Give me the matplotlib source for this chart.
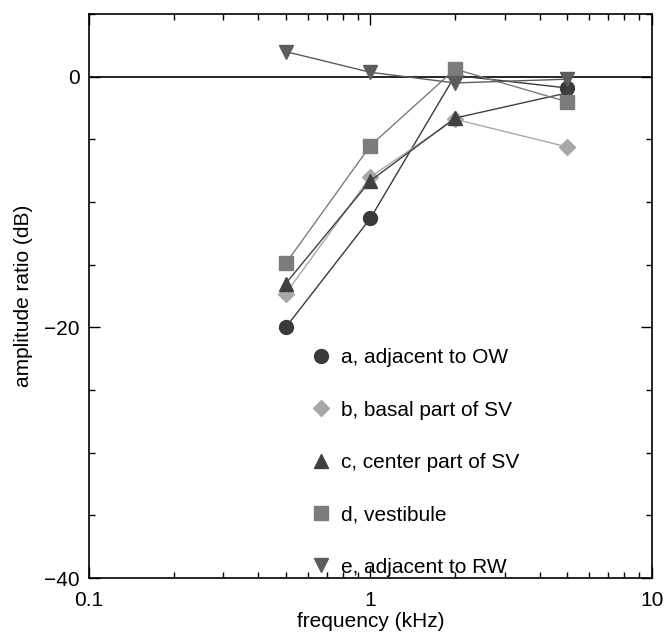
import matplotlib
matplotlib.use('Agg')
import matplotlib.pyplot as plt
from matplotlib.lines import Line2D
from matplotlib.ticker import MultipleLocator

plt.rcParams['font.family'] = ['Liberation Sans', 'DejaVu Sans']

# frequencies (kHz)
freq = [0.5, 1, 2, 5]

# amplitude ratio (dB)
adj_ow = [-20.0, -11.3, 0.1, -0.9]
basal_sv = [-17.3, -8.0, -3.4, -5.6]
center_sv = [-16.5, -8.3, -3.3, -1.3]
vestibule = [-14.9, -5.5, 0.6, -2.0]
adj_rw = [2.0, 0.35, -0.5, -0.2]

labels = ['a, adjacent to OW', 'b, basal part of SV', 'c, center part of SV',
          'd, vestibule', 'e, adjacent to RW']

series = [adj_ow, basal_sv, center_sv, vestibule, adj_rw]
markers = ['o', 'D', '^', 's', 'v']
sizes = [10, 8, 10, 10, 10]
colors = ['#3a3a3a', '#a8a8a8', '#404040', '#7c7c7c', '#5c5c5c']

fig = plt.figure(figsize=(6.65, 6.36), dpi=100)
ax = fig.add_axes([0.134, 0.091, 0.846, 0.887])

ax.axhline(0, color='black', lw=1.2, zorder=1)

for vals, m, ms, c in zip(series, markers, sizes, colors):
    ax.plot(freq, vals, color=c, lw=1.0, marker=m, markersize=ms,
            markeredgecolor=c, markerfacecolor=c, zorder=2)

ax.set_xscale('log')
ax.set_xlim(0.1, 10)
ax.set_ylim(-40, 5)
ax.set_xticks([0.1, 1, 10])
ax.set_xticklabels(['0.1', '1', '10'])
ax.set_yticks([-40, -20, 0])
ax.set_yticklabels(['\u221240', '\u221220', '0'])
ax.yaxis.set_minor_locator(MultipleLocator(5))
ax.tick_params(which='both', direction='in', top=True, right=True,
               labelsize=15, width=1)
ax.tick_params(which='major', length=8)
ax.tick_params(which='minor', length=4)
ax.tick_params(axis='x', which='major', pad=9)
ax.tick_params(axis='y', which='major', pad=7)
for s in ax.spines.values():
    s.set_linewidth(1.2)

ax.set_xlabel('frequency (kHz)', fontsize=15, labelpad=2)
ax.set_ylabel('amplitude ratio (dB)', fontsize=15, labelpad=8)

handles = [Line2D([], [], linestyle='none', marker=m, markersize=ms,
                  color=c, markeredgecolor=c) for m, ms, c in zip(markers, sizes, colors)]
ax.legend(handles, labels, loc='lower left', bbox_to_anchor=(0.378, -0.012),
          frameon=False, fontsize=15, labelspacing=1.6, handletextpad=0.5,
          handlelength=1.0, borderaxespad=0.0)

fig.savefig('out.png', dpi=100)
